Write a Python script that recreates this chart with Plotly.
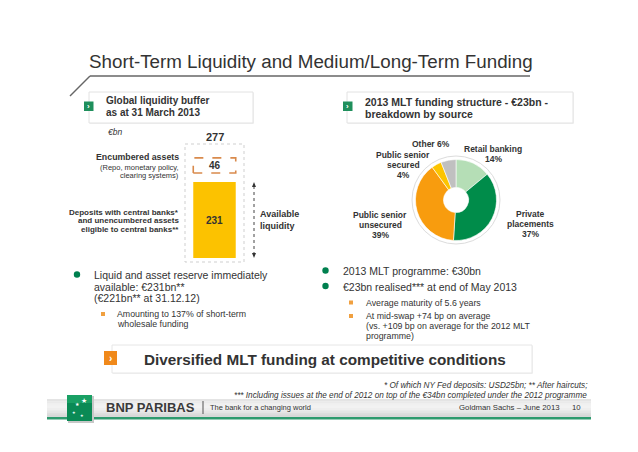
import plotly.graph_objects as go

W, H = 638, 452

# ---------------- data ----------------
buffer_parts = ["Deposits with central banks and unencumbered assets", "Encumbered assets"]
buffer_values = [231, 46]

mlt_sources = ["Retail banking", "Private placements", "Public senior unsecured",
               "Public senior secured", "Other"]
mlt_shares = [14, 37, 39, 4, 6]
mlt_colors = ["#b5deb6", "#008c4a", "#f89c0e", "#fcc400", "#c0c0c0"]

BODY = "Liberation Sans, Arial, Helvetica, sans-serif"
NARROW = "Liberation Sans Narrow, Arial Narrow, Liberation Sans, Arial, sans-serif"
TXT = "#333333"


def X(p):
    return p / W


def Y(p):
    return 1 - p / H


annotations = []
shapes = []


def txt(x, y, s, size=10, color=TXT, xanchor="left", family=BODY):
    annotations.append(dict(x=X(x), y=Y(y), xref="paper", yref="paper", text=s,
                            showarrow=False, xanchor=xanchor, yanchor="middle",
                            font=dict(size=size, color=color, family=family)))


def rect(x0, y0, x1, y1, fill=None, line=None, lw=1, dash=None, layer="below"):
    shapes.append(dict(type="rect", xref="paper", yref="paper",
                       x0=X(x0), x1=X(x1), y0=Y(y0), y1=Y(y1),
                       fillcolor=fill if fill else "rgba(0,0,0,0)",
                       line=dict(color=line if line else "rgba(0,0,0,0)",
                                 width=lw if line else 0, dash=dash),
                       layer=layer))


def line(x0, y0, x1, y1, color="#555", lw=1, dash=None, layer="above"):
    shapes.append(dict(type="line", xref="paper", yref="paper",
                       x0=X(x0), x1=X(x1), y0=Y(y0), y1=Y(y1),
                       line=dict(color=color, width=lw, dash=dash), layer=layer))


def circle(cx, cy, r, fill, line_color=None, layer="above"):
    shapes.append(dict(type="circle", xref="paper", yref="paper",
                       x0=X(cx - r), x1=X(cx + r), y0=Y(cy + r), y1=Y(cy - r),
                       fillcolor=fill,
                       line=dict(color=line_color if line_color else fill, width=1 if line_color else 0),
                       layer=layer))


def path(pts, fill, layer="above"):
    d = "M " + " L ".join(f"{X(a):.5f},{Y(b):.5f}" for a, b in pts) + " Z"
    shapes.append(dict(type="path", xref="paper", yref="paper", path=d,
                       fillcolor=fill, line=dict(width=0), layer=layer))


fig = go.Figure()

# ---------------- bar chart (liquidity buffer) ----------------
k = (258 - 182) / buffer_values[0]          # px per unit
gap = 9 / k
fig.add_trace(go.Bar(x=[0], y=[buffer_values[0]], width=0.72,
                     marker=dict(color="#fcc200", line=dict(width=0)),
                     text=[f"<b>{buffer_values[0]}</b>"], textposition="inside",
                     insidetextanchor="middle", textangle=0,
                     insidetextfont=dict(size=10, color=TXT, family=BODY),
                     name=buffer_parts[0], showlegend=False, hoverinfo="y"))
base = buffer_values[0] + gap
top = base + buffer_values[1]
fig.add_trace(go.Scatter(x=[-0.36, 0.36, 0.36, -0.36, -0.36],
                         y=[base, base, top, top, base], mode="lines",
                         fill="toself", fillcolor="white",
                         line=dict(color="#d98a4c", width=1.6, dash="dash"),
                         name=buffer_parts[1], showlegend=False, hoverinfo="skip"))
annotations.append(dict(x=0, y=(base + top) / 2, xref="x", yref="y",
                        text=f"<b>{buffer_values[1]}</b>", showarrow=False,
                        font=dict(size=10, color=TXT, family=BODY)))
annotations.append(dict(x=0, y=Y(137), xref="x", yref="paper",
                        text=f"<b>{sum(buffer_values)}</b>", showarrow=False,
                        yanchor="middle", font=dict(size=11, color=TXT, family=BODY)))

# ---------------- donut ----------------
fig.add_trace(go.Pie(values=mlt_shares, labels=mlt_sources, hole=0.31, sort=False,
                     direction="clockwise", rotation=0,
                     marker=dict(colors=mlt_colors, line=dict(color="white", width=0.6)),
                     textinfo="none", hoverinfo="label+percent", showlegend=False,
                     domain=dict(x=[X(415.5), X(496.5)], y=[Y(240.5), Y(159.5)])))
circle(456, 200, 44, "white", "#dcdcdc", layer="below")

# donut labels
def block(cx, ys, lines, size=8.5):
    for yy, s in zip(ys, lines):
        txt(cx, yy, f"<b>{s}</b>", size=size, xanchor="center")

block(431, [144], [f"{mlt_sources[4]} {mlt_shares[4]}%"])
block(403, [155, 165, 175], ["Public senior", "secured", f"{mlt_shares[3]}%"])
block(493, [149, 159], [mlt_sources[0], f"{mlt_shares[0]}%"])
block(530, [214, 224, 234], ["Private", "placements", f"{mlt_shares[1]}%"])
block(380, [215, 225, 235], ["Public senior", "unsecured", f"{mlt_shares[2]}%"])

# ---------------- title ----------------
txt(87, 62, "Short-Term Liquidity and Medium/Long-Term Funding", size=18.8,
    family=BODY)
line(70, 96, 90, 76, color="#666", lw=1.5)
line(90, 76, 530, 76, color="#666", lw=1.5)

# ---------------- header boxes ----------------
for (x0, x1, ix) in [(89, 253, 84), (347, 573, 343)]:
    rect(x0 + 1, 93, x1 + 1, 124, fill="#f2f2f2")
    rect(x0, 92, x1, 123, fill="white", line="#e2e2e2", lw=1)
    rect(ix, 101.5, ix + 9.5, 111, fill="#1f8f5c", layer="above")
    txt(ix + 4.75, 106, "<b>›</b>", size=8, color="white", xanchor="center")
txt(104, 101, "<b>Global liquidity buffer</b>", size=10)
txt(104, 112.5, "<b>as at 31 March 2013</b>", size=10)
txt(363, 101.5, "<b>2013 MLT funding structure - €23bn -</b>", size=10.5)
txt(363, 114, "<b>breakdown by source</b>", size=10.5)

# ---------------- bar side labels ----------------
txt(115, 132, "<i>€bn</i>", size=8.5, xanchor="center")
rect(185, 144, 244, 262, line="#cfcfcf", lw=1, dash="dot")
txt(181, 157, "<b>Encumbered assets</b>", size=8.8, xanchor="right")
txt(181, 167, "(Repo, monetary policy,", size=7.5, xanchor="right")
txt(181, 175.5, "clearing systems)", size=7.5, xanchor="right")
txt(181, 212.5, "<b>Deposits with central banks*</b>", size=8, xanchor="right")
txt(181, 221, "<b>and unencumbered assets</b>", size=8, xanchor="right")
txt(181, 229.5, "<b>eligible to central banks**</b>", size=8, xanchor="right")
txt(258, 214, "<b>Available</b>", size=9)
txt(258, 226, "<b>liquidity</b>", size=9)
line(254, 186, 254, 254, color="#444", lw=1, dash="dot")
path([(254, 182), (252, 187), (256, 187)], "#333")
path([(254, 258), (252, 253), (256, 253)], "#333")

# ---------------- bullets ----------------
circle(77, 274.5, 3.2, "#00804f")
txt(92, 275, "Liquid and asset reserve immediately", size=10.5)
txt(92, 286.5, "available: €231bn**", size=10.5)
txt(92, 298, "(€221bn** at 31.12.12)", size=10.5)
rect(101, 312, 105, 316, fill="#f0a040", layer="above")
txt(115, 314, "Amounting to 137% of short-term", size=8.8)
txt(115, 324, "wholesale funding", size=8.8)

circle(325.5, 270.5, 3.2, "#00804f")
txt(341, 271, "2013 MLT programme: €30bn", size=10.5)
circle(325.5, 286, 3.2, "#00804f")
txt(341, 286.5, "€23bn realised*** at end of May 2013", size=10.5)
rect(349, 300.5, 353, 304.5, fill="#f0a040", layer="above")
txt(364, 302.5, "Average maturity of 5.6 years", size=8.8)
rect(349, 314, 353, 318, fill="#f0a040", layer="above")
txt(364, 316, "At mid-swap +74 bp on average", size=8.8)
txt(364, 326, "(vs. +109 bp on average for the 2012 MLT", size=8.8)
txt(364, 336, "programme)", size=8.8)

# ---------------- conclusion box ----------------
rect(113, 346, 533, 374, fill="#f3f3f3")
rect(112, 345, 532, 373, fill="white", line="#e6e6e6", lw=1)
rect(104, 351, 117, 365, fill="#f0891a", layer="above")
txt(110.5, 358, "<b>›</b>", size=10, color="white", xanchor="center")
txt(325, 359.5, "<b>Diversified MLT funding at competitive conditions</b>", size=15.3,
    xanchor="center", family=BODY)

# ---------------- footnotes ----------------
txt(589, 385, "<i>* Of which NY Fed deposits: USD25bn; ** After haircuts;</i>", size=8.2,
    xanchor="right")
txt(589, 395, "<i>*** Including issues at the end of 2012 on top of the €34bn completed under the 2012 programme</i>",
    size=8.2, xanchor="right")

# ---------------- footer ----------------
grad = ["#e4e4e4", "#eaeaea", "#f0f0f0", "#f2f2f2", "#eeeeee", "#e6e6e6", "#dedede", "#d8d8d8"]
y0 = 399
hstep = (417 - y0) / len(grad)
for i, c in enumerate(grad):
    rect(47, y0 + i * hstep, 591, y0 + (i + 1) * hstep + 0.3, fill=c)
rect(47, 417, 591, 419.5, fill="#2e9a6e")
rect(68, 396, 94, 423, fill="#c8c8c8")
rect(67, 395, 92, 421, fill="#0a8a55", layer="above")
rect(67, 395, 92, 403, fill="#19a064", layer="above")
for (sx, sy, sz) in [(84, 401, 7), (77, 404, 5), (74, 412, 4), (82, 415, 4)]:
    txt(sx, sy, "★", size=sz, color="white", xanchor="center", family="DejaVu Sans")
txt(104, 407.5, "<b>BNP PARIBAS</b>", size=13, color="#3a3a3a")
line(203, 401, 203, 414, color="#555", lw=1)
txt(208, 407.5, "The bank for a changing world", size=7.5, color="#333", family=NARROW)
txt(562, 407.5, "Goldman Sachs – June 2013", size=7.8, color="#333", xanchor="right")
txt(570, 407.5, "10", size=7.8, color="#333")

# ---------------- layout ----------------
yr = [-(262 - 258) / k, (258 - 140) / k]
fig.update_layout(
    width=W, height=H, margin=dict(l=0, r=0, t=0, b=0),
    paper_bgcolor="white", plot_bgcolor="rgba(0,0,0,0)",
    xaxis=dict(domain=[X(185), X(244)], range=[-0.5, 0.5], visible=False, fixedrange=True),
    yaxis=dict(domain=[Y(262), Y(140)], range=yr, visible=False, fixedrange=True),
    annotations=annotations, shapes=shapes, showlegend=False,
)

fig.write_html("out.html", config={"displayModeBar": False},
               post_script="document.body.style.margin='0';document.body.style.overflow='hidden';")
